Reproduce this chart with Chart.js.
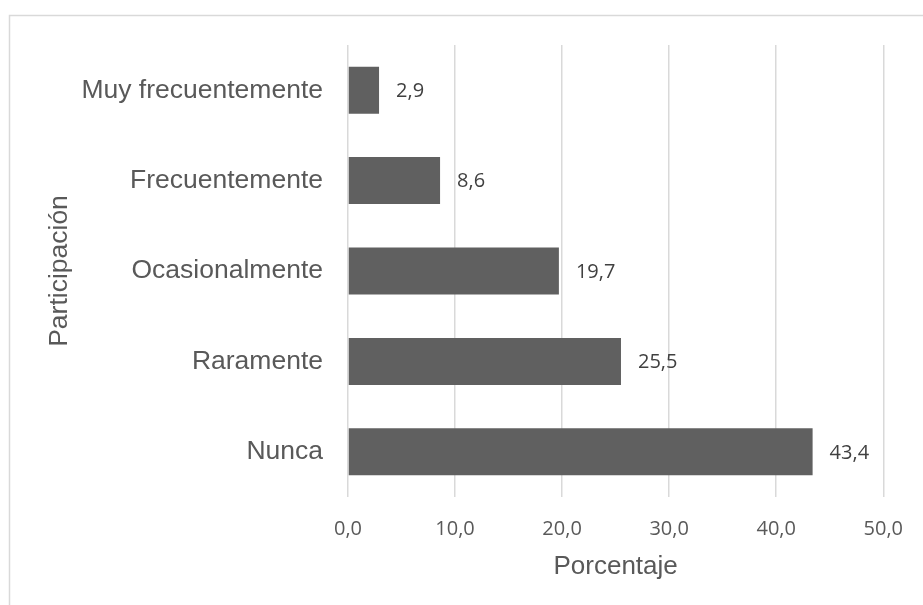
<!DOCTYPE html>
<html>
<head>
<meta charset="utf-8">
<script src="https://cdn.jsdelivr.net/npm/chart.js@4.4.1/dist/chart.umd.min.js"></script>
<style>
  body { margin: 0; background: #fff; }
  #wrap { width: 923px; height: 605px; position: relative; }
</style>
</head>
<body>
<div id="wrap"><canvas id="grafico"></canvas></div>
<script>
// Datos
const categorias = ['Muy frecuentemente', 'Frecuentemente', 'Ocasionalmente', 'Raramente', 'Nunca'];
const porcentajes = [2.9, 8.6, 19.7, 25.5, 43.4];
const ticksX = [0, 10, 20, 30, 40, 50];

const gris = '#595959';
const fmt = v => Number(v).toFixed(1).replace('.', ',');

// marco del gráfico
const marco = {
    id: 'marco',
    beforeDraw(chart) {
        const c = chart.ctx;
        c.save();
        c.strokeStyle = '#d9d9d9';
        c.lineWidth = 1.5;
        c.strokeRect(9.5, 15.5, 1000, 1000);
        c.restore();
    }
};

// etiquetas de datos a la derecha de cada barra
const etiquetas = {
    id: 'etiquetas',
    afterDatasetsDraw(chart) {
        const c = chart.ctx;
        const meta = chart.getDatasetMeta(0);
        c.save();
        c.font = '20px "Open Sans"';
        c.fillStyle = '#404040';
        c.textAlign = 'left';
        c.textBaseline = 'middle';
        meta.data.forEach((bar, i) => {
            c.fillText(fmt(porcentajes[i]), bar.x + 17, bar.y + 1);
        });
        c.restore();
    }
};

new Chart(document.getElementById('grafico'), {
    type: 'bar',
    data: {
        labels: categorias,
        datasets: [{
            data: porcentajes,
            backgroundColor: '#606060',
            categoryPercentage: 1,
            barPercentage: 0.52
        }]
    },
    options: {
        indexAxis: 'y',
        responsive: true,
        maintainAspectRatio: false,
        animation: false,
        layout: { padding: { top: 45, right: 39, left: 0, bottom: 0 } },
        plugins: { legend: { display: false }, tooltip: { enabled: false } },
        scales: {
            x: {
                min: 0,
                max: 50,
                afterBuildTicks: s => { s.ticks = ticksX.map(v => ({ value: v })); },
                afterFit: s => { s.height = 108; },
                grid: { color: '#d9d9d9', lineWidth: 1.5, drawTicks: false },
                border: { display: false },
                ticks: {
                    padding: 20,
                    color: gris,
                    font: { family: '"Open Sans"', size: 20 },
                    callback: v => fmt(v)
                },
                title: {
                    display: true,
                    text: 'Porcentaje',
                    color: gris,
                    font: { family: '"Liberation Sans"', size: 26 },
                    padding: { top: 0, bottom: 23 }
                }
            },
            y: {
                afterFit: s => { s.width = 348; },
                grid: { display: false, drawTicks: false },
                border: { display: false },
                ticks: {
                    padding: 25,
                    color: gris,
                    font: { family: '"Liberation Sans"', size: 26.5 }
                },
                title: {
                    display: true,
                    text: 'Participación',
                    color: gris,
                    font: { family: '"Liberation Sans"', size: 26.5 },
                    padding: { top: 44, bottom: 0 }
                }
            }
        }
    },
    plugins: [marco, etiquetas]
});
</script>
</body>
</html>
